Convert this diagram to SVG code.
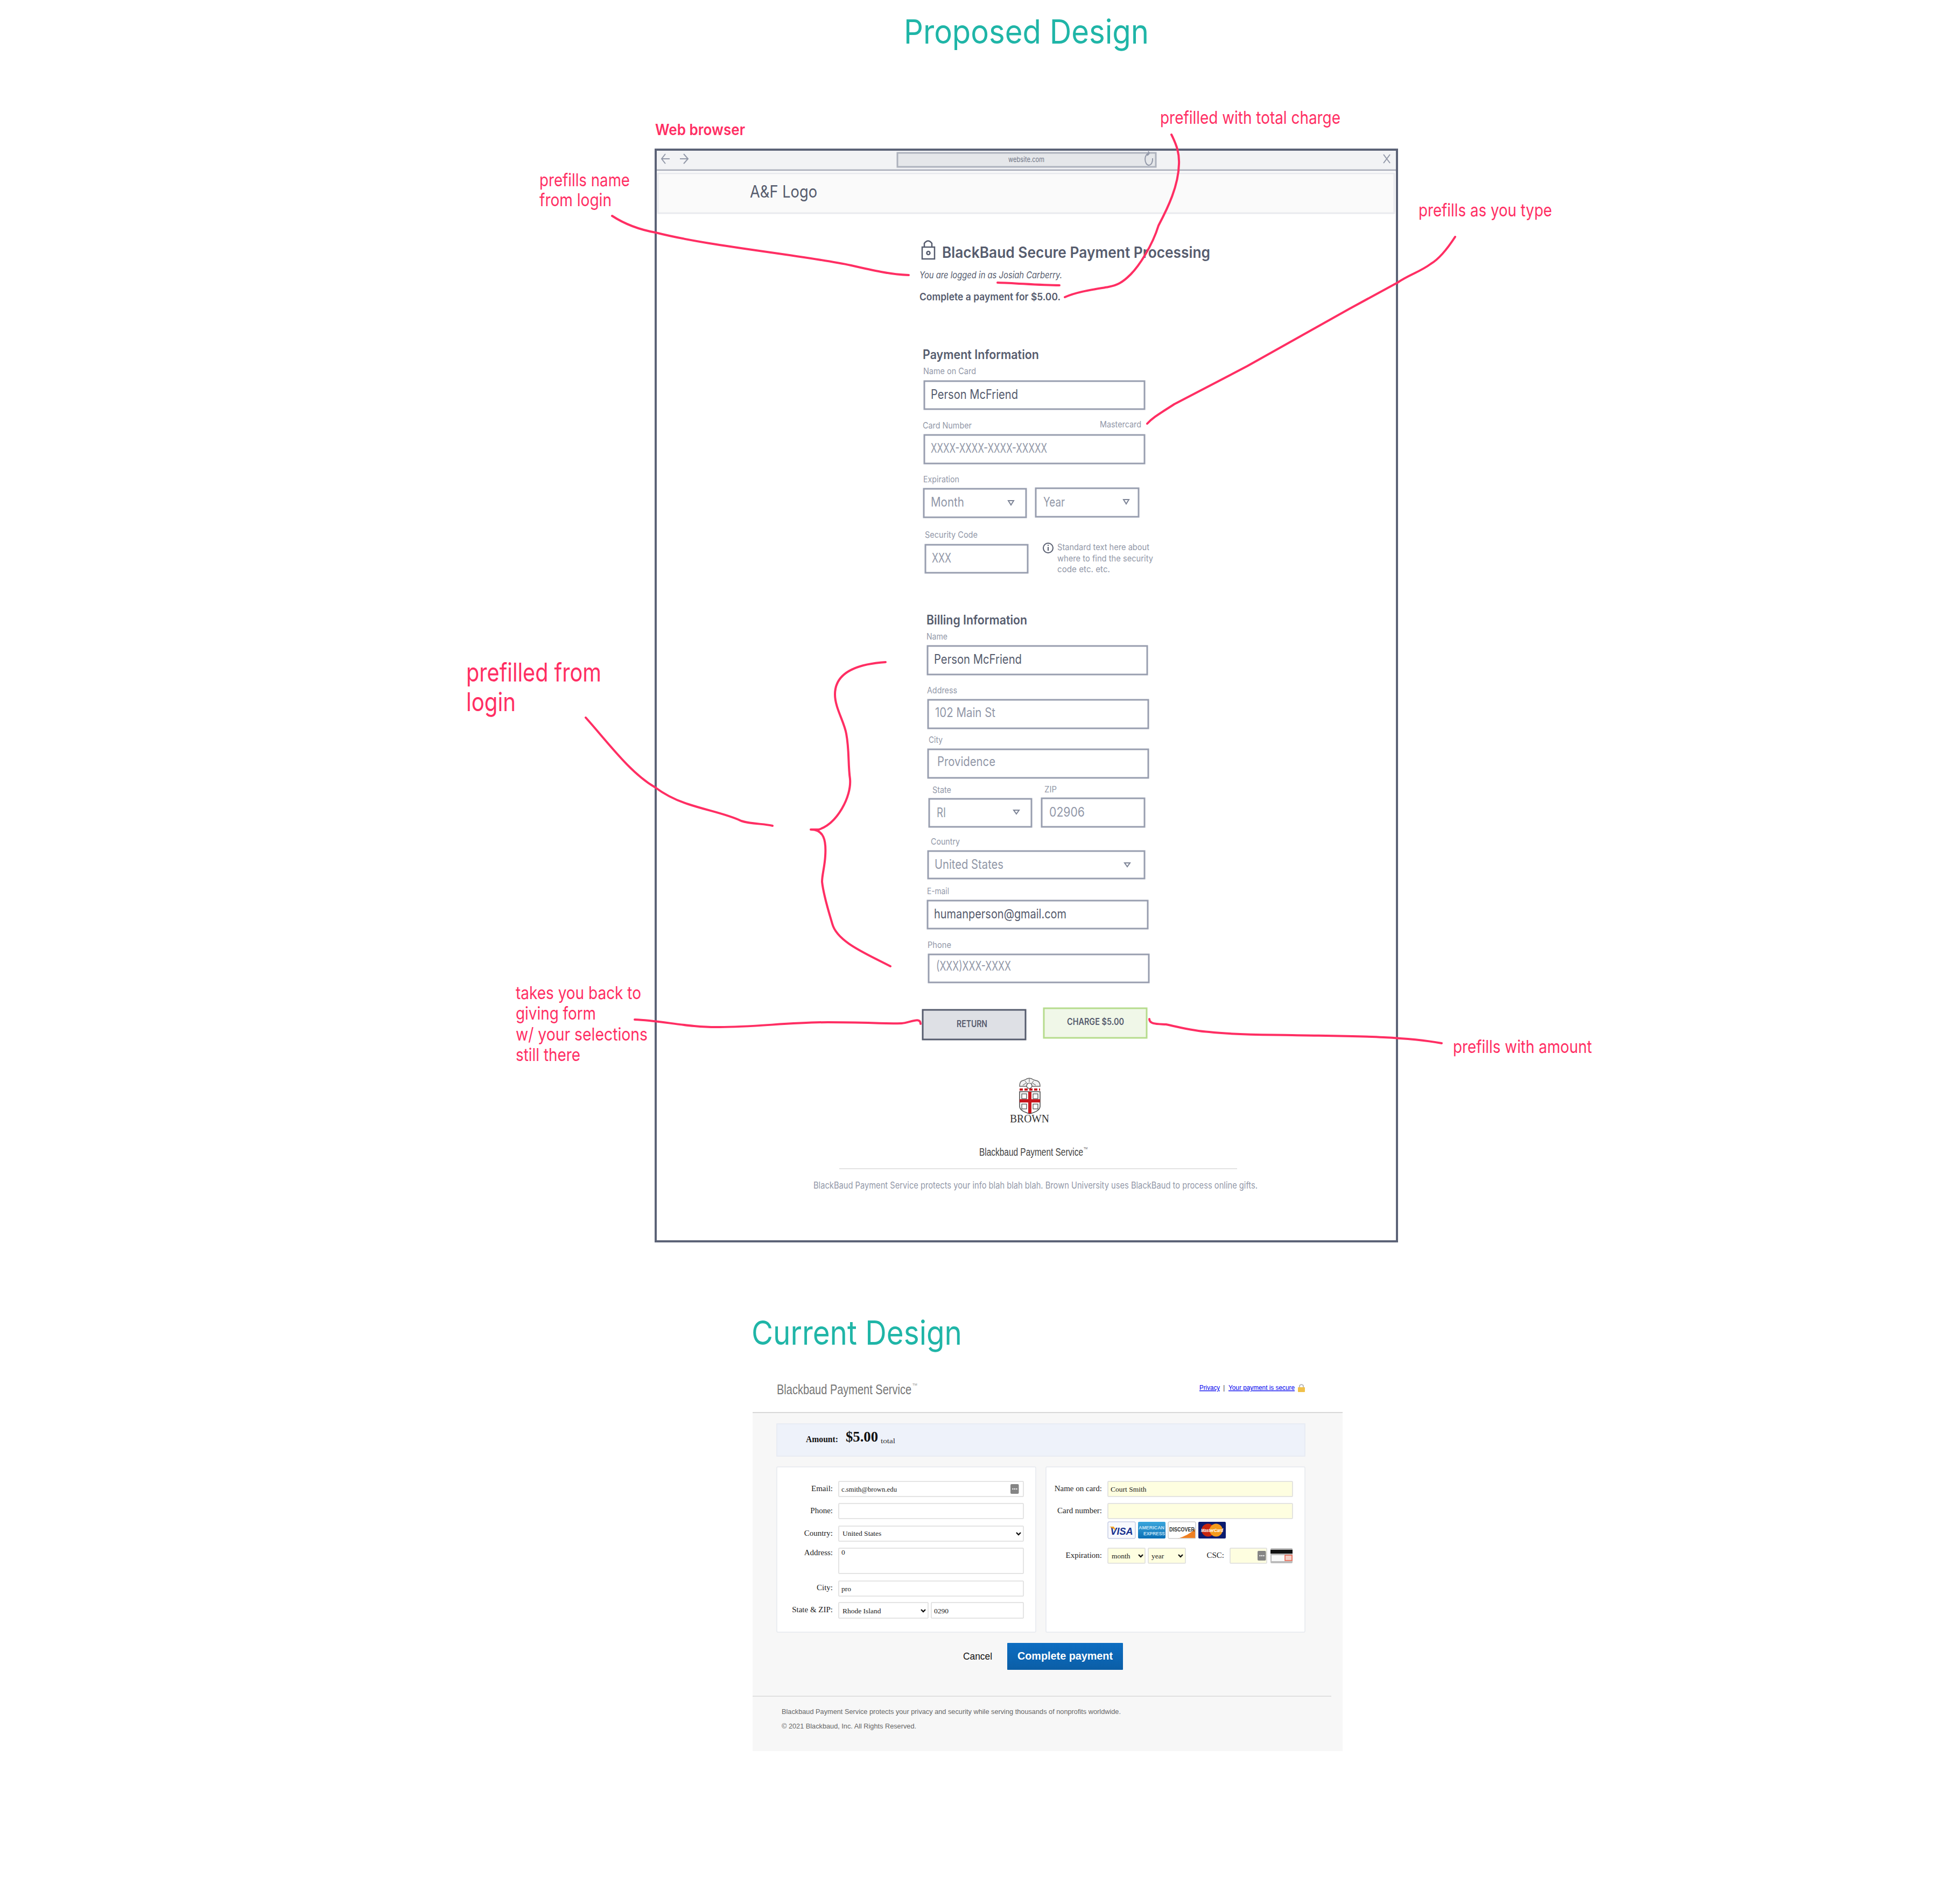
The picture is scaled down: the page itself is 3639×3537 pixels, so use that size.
<svg xmlns="http://www.w3.org/2000/svg" width="3639" height="3537" viewBox="0 0 3639 3537">
<defs>
<style>
text{font-family:"Inter","Liberation Sans",sans-serif;white-space:pre}
.title{font-size:62px;fill:#1fb5a7}
.note{font-size:33px;fill:#ff2e63}
.big{font-size:48px;fill:#ff2e63}
.lab{font-size:16.500px;fill:#9298a8}
.val{font-size:24px;fill:#565c6e}
.ph{font-size:24px;fill:#9298a8}
.head{font-size:24px;font-weight:600;fill:#565c6e}
.box{fill:#fff;stroke:#989eaf;stroke-width:3}
.tri{fill:none;stroke:#7d8496;stroke-width:2}
.ser{font-family:"Liberation Serif",serif;font-size:15px;fill:#222}
.val2{font-family:"Liberation Serif",serif;font-size:13.5px;fill:#222}
.serif{font-family:"Liberation Serif",serif}
.sans{font-family:"Liberation Sans",sans-serif}
.inp{fill:#fff;stroke:#dcdcdc;stroke-width:1.5}
.inpy{fill:#fefee0;stroke:#dcdcdc;stroke-width:1.5}
.card{fill:#fff;stroke:#e6e9ee;stroke-width:1.5}
.chev{fill:none;stroke:#111;stroke-width:2.4}
.lnk{font-family:"Liberation Sans",sans-serif;font-size:13px;fill:#0000ee;text-decoration:underline}
.sm{font-family:"Liberation Sans",sans-serif;font-size:12.5px;fill:#666}
.conn{fill:none;stroke:#ff2e63;stroke-width:4;stroke-linecap:round;stroke-linejoin:round}
</style>
<linearGradient id="btn" x1="0" y1="0" x2="0" y2="1"><stop offset="0" stop-color="#0d6dc1"/><stop offset="1" stop-color="#0b5ea6"/></linearGradient>
<linearGradient id="amex" x1="0" y1="0" x2="0" y2="1"><stop offset="0" stop-color="#3ba6dc"/><stop offset="1" stop-color="#0a6fb5"/></linearGradient>
<g id="key"><rect width="15.500" height="18" rx="2" fill="#858585"/><circle cx="4.500" cy="9" r="1.200" fill="#fff"/><circle cx="8" cy="9" r="1.200" fill="#fff"/><circle cx="11.500" cy="9" r="1.200" fill="#fff"/></g>
</defs>
<rect width="3639" height="3537" fill="#fff"/>

<g id="titles">
<text class="title" x="1679" y="81" textLength="455" lengthAdjust="spacingAndGlyphs">Proposed Design</text>
<text class="title" x="1396" y="2498" textLength="391" lengthAdjust="spacingAndGlyphs">Current Design</text>
</g>

<g id="browser">
<rect x="1219" y="279" width="1376" height="2027" fill="#fff"/>
<rect x="1219" y="280" width="1376" height="36" fill="#f2f3f5"/>
<path d="M1219 316H2595" stroke="#b0b4bf" stroke-width="3"/>
<rect x="1667" y="284" width="480" height="26" fill="#e5e7ea" stroke="#adb2bd" stroke-width="3"/>
<text x="1873" y="301" font-size="13.500" fill="#6f7585" textLength="67" lengthAdjust="spacingAndGlyphs">website.com</text>
<path d="M1244 295H1229M1236 286L1229 295L1236 304M1263 295H1278M1270 286L1278 295L1270 304" fill="none" stroke="#9298a8" stroke-width="2"/>
<path d="M2135 285A7 11 0 1 0 2141 294M2135 285L2133 281M2135 285L2131 289" fill="none" stroke="#9298a8" stroke-width="2"/>
<path d="M2570 287L2582 303M2582 287L2570 303" stroke="#9298a8" stroke-width="2"/>
<rect x="1222" y="322" width="1368" height="74" fill="#fafafa" stroke="#e9eaee" stroke-width="3"/>
<text x="1393" y="367" font-size="31" fill="#565c6e" textLength="125" lengthAdjust="spacingAndGlyphs">A&amp;F Logo</text>
<path d="M1218 2306V278H2595V2306H1218Z" fill="none" stroke="#5c6377" stroke-width="4"/>
</g>

<g id="payment-heading">
<g fill="none" stroke="#565c6e" stroke-width="2.500"><rect x="1713" y="459" width="23" height="22"/><path d="M1717 459V452Q1724 443 1731 452V459"/><circle cx="1724.500" cy="470" r="3"/></g>
<text x="1750" y="479" font-size="28" font-weight="600" fill="#565c6e" textLength="498" lengthAdjust="spacingAndGlyphs">BlackBaud Secure Payment Processing</text>
<text x="1708" y="517" font-size="17" font-style="italic" fill="#565c6e" textLength="265" lengthAdjust="spacingAndGlyphs">You are logged in as Josiah Carberry.</text>
<text x="1708" y="558" font-size="19" font-weight="600" fill="#565c6e" textLength="262" lengthAdjust="spacingAndGlyphs">Complete a payment for $5.00.</text>
</g>

<g id="payment-form">
<text class="head" x="1714" y="667" textLength="216" lengthAdjust="spacingAndGlyphs">Payment Information</text>
<text class="lab" x="1715" y="695" textLength="98" lengthAdjust="spacingAndGlyphs">Name on Card</text>
<rect class="box" x="1717" y="708" width="409" height="52"/>
<text class="val" x="1729" y="741" textLength="162" lengthAdjust="spacingAndGlyphs">Person McFriend</text>
<text class="lab" x="1714" y="796" textLength="91" lengthAdjust="spacingAndGlyphs">Card Number</text>
<text class="lab" x="2043" y="794" textLength="77" lengthAdjust="spacingAndGlyphs">Mastercard</text>
<rect class="box" x="1717" y="808" width="409" height="53"/>
<text class="ph" x="1729" y="841" textLength="216" lengthAdjust="spacingAndGlyphs">XXXX-XXXX-XXXX-XXXXX</text>
<text class="lab" x="1715" y="896" textLength="67" lengthAdjust="spacingAndGlyphs">Expiration</text>
<rect class="box" x="1716" y="908" width="190" height="53"/>
<text class="ph" x="1729" y="941" textLength="62" lengthAdjust="spacingAndGlyphs">Month</text>
<path class="tri" d="M1873 930H1883L1878 938Z"/>
<rect class="box" x="1924" y="907" width="191" height="53"/>
<text class="ph" x="1938" y="941" textLength="40" lengthAdjust="spacingAndGlyphs">Year</text>
<path class="tri" d="M2087 928H2097L2092 936Z"/>
<text class="lab" x="1718" y="999" textLength="98" lengthAdjust="spacingAndGlyphs">Security Code</text>
<rect class="box" x="1719" y="1012" width="190" height="52"/>
<text class="ph" x="1731" y="1045" textLength="36" lengthAdjust="spacingAndGlyphs">XXX</text>
<circle cx="1947" cy="1018" r="9" fill="none" stroke="#565c6e" stroke-width="2"/>
<path d="M1947 1016V1023M1947 1012V1014" stroke="#565c6e" stroke-width="2"/>
<text class="lab" x="1964" y="1022" textLength="171" lengthAdjust="spacingAndGlyphs">Standard text here about</text>
<text class="lab" x="1964" y="1043" textLength="178" lengthAdjust="spacingAndGlyphs">where to find the security</text>
<text class="lab" x="1964" y="1063" textLength="98" lengthAdjust="spacingAndGlyphs">code etc. etc.</text>
</g>

<g id="billing-form">
<text class="head" x="1721" y="1160" textLength="187" lengthAdjust="spacingAndGlyphs">Billing Information</text>
<text class="lab" x="1721" y="1188" textLength="39" lengthAdjust="spacingAndGlyphs">Name</text>
<rect class="box" x="1723" y="1200" width="408" height="53"/>
<text class="val" x="1735" y="1233" textLength="163" lengthAdjust="spacingAndGlyphs">Person McFriend</text>
<text class="lab" x="1722" y="1288" textLength="56" lengthAdjust="spacingAndGlyphs">Address</text>
<rect class="box" x="1724" y="1300" width="409" height="53"/>
<text class="ph" x="1737" y="1332" textLength="112" lengthAdjust="spacingAndGlyphs">102 Main St</text>
<text class="lab" x="1725" y="1380" textLength="26" lengthAdjust="spacingAndGlyphs">City</text>
<rect class="box" x="1724" y="1392" width="409" height="53"/>
<text class="ph" x="1741" y="1423" textLength="108" lengthAdjust="spacingAndGlyphs">Providence</text>
<text class="lab" x="1732" y="1473" textLength="35" lengthAdjust="spacingAndGlyphs">State</text>
<rect class="box" x="1726" y="1484" width="190" height="52"/>
<text class="ph" x="1740" y="1518" textLength="17" lengthAdjust="spacingAndGlyphs">RI</text>
<path class="tri" d="M1883 1505H1893L1888 1512Z"/>
<text class="lab" x="1940" y="1472" textLength="23" lengthAdjust="spacingAndGlyphs">ZIP</text>
<rect class="box" x="1935" y="1483" width="191" height="53"/>
<text class="ph" x="1949" y="1517" textLength="66" lengthAdjust="spacingAndGlyphs">02906</text>
<text class="lab" x="1729" y="1569" textLength="54" lengthAdjust="spacingAndGlyphs">Country</text>
<rect class="box" x="1724" y="1581" width="402" height="51"/>
<text class="ph" x="1736" y="1614" textLength="128" lengthAdjust="spacingAndGlyphs">United States</text>
<path class="tri" d="M2089 1603H2099L2094 1610Z"/>
<text class="lab" x="1722" y="1661" textLength="41" lengthAdjust="spacingAndGlyphs">E-mail</text>
<rect class="box" x="1723" y="1673" width="409" height="52"/>
<text class="val" x="1735" y="1706" textLength="246" lengthAdjust="spacingAndGlyphs">humanperson@gmail.com</text>
<text class="lab" x="1723" y="1761" textLength="44" lengthAdjust="spacingAndGlyphs">Phone</text>
<rect class="box" x="1725" y="1773" width="409" height="52"/>
<text class="ph" x="1739" y="1803" textLength="139" lengthAdjust="spacingAndGlyphs">(XXX)XXX-XXXX</text>
</g>

<g id="return-button">
<rect x="1714" y="1876" width="191" height="55" fill="#dee0e5" stroke="#565c6e" stroke-width="3"/>
<text x="1777" y="1908" font-size="17" font-weight="600" fill="#565c6e" textLength="57" lengthAdjust="spacingAndGlyphs">RETURN</text>
</g>
<g id="charge-button">
<rect x="1939" y="1873" width="191" height="55" fill="#f0f7e8" stroke="#b6dc8d" stroke-width="3"/>
<text x="1982" y="1904" font-size="17" font-weight="600" fill="#565c6e" textLength="106" lengthAdjust="spacingAndGlyphs">CHARGE $5.00</text>
</g>

<g id="brown-logo">
<path d="M1894 2018Q1894 2010 1898 2008L1904 2006Q1912 2000 1920 2006L1927 2008Q1932 2010 1932 2018Z" fill="#f2f2f2" stroke="#666" stroke-width="1.500"/>
<path d="M1900 2016L1906 2012M1924 2016L1918 2012M1912 2004V2010M1904 2008L1908 2013M1920 2008L1916 2013" stroke="#777" stroke-width="1.200"/>
<circle cx="1912" cy="2017" r="5" fill="#fff" stroke="#444" stroke-width="1.200"/>
<path d="M1894 2024H1932" stroke="#c8161d" stroke-width="4" stroke-dasharray="6 3"/>
<path d="M1894 2028H1932V2055Q1932 2064 1913 2069Q1894 2064 1894 2055Z" fill="#fff" stroke="#444" stroke-width="1.500"/>
<path d="M1913 2028V2068M1894 2045H1932" stroke="#c8161d" stroke-width="6"/>
<g fill="none" stroke="#444" stroke-width="1.200"><rect x="1898" y="2032" width="9" height="9"/><rect x="1919" y="2032" width="9" height="9"/><rect x="1898" y="2051" width="9" height="9"/><rect x="1919" y="2051" width="9" height="9"/></g>
<text class="serif" x="1876" y="2085" font-size="21" fill="#333" textLength="73" lengthAdjust="spacingAndGlyphs">BROWN</text>
</g>

<g id="browser-footer">
<text class="sans" x="1819" y="2147" font-size="20" fill="#444" textLength="193" lengthAdjust="spacingAndGlyphs">Blackbaud Payment Service</text>
<text class="sans" x="2013" y="2135" font-size="5" fill="#555">TM</text>
<path d="M1559 2171H2298" stroke="#e3e3e3" stroke-width="2"/>
<text x="1511" y="2208" font-size="17" fill="#9298a8" textLength="825" lengthAdjust="spacingAndGlyphs">BlackBaud Payment Service protects your info blah blah blah. Brown University uses BlackBaud to process online gifts.</text>
</g>

<g id="current-design">
<rect x="1398" y="2624" width="1096" height="629" fill="#f7f7f7"/>
<path d="M1398 2624H2494" stroke="#ccc" stroke-width="1.500"/>
<text class="sans" x="1443" y="2590" font-size="26" fill="#777" textLength="250" lengthAdjust="spacingAndGlyphs">Blackbaud Payment Service</text>
<text class="sans" x="1695" y="2574" font-size="6" fill="#888">TM</text>
<text class="lnk" x="2228" y="2582" textLength="38" lengthAdjust="spacingAndGlyphs">Privacy</text>
<text class="sans" x="2272" y="2582" font-size="13" fill="#555">|</text>
<text class="lnk" x="2282" y="2582" textLength="123" lengthAdjust="spacingAndGlyphs">Your payment is secure</text>
<rect x="2411" y="2577" width="13" height="9" rx="1" fill="#f0c04a"/>
<path d="M2414 2577V2574Q2417.500 2570 2421 2574V2577" fill="none" stroke="#bdbdbd" stroke-width="2"/>
<rect x="1443" y="2645" width="981" height="60" fill="#eef2fa" stroke="#e5e9f2" stroke-width="1.500"/>
<text class="serif" x="1497" y="2679" font-size="16" font-weight="700" fill="#111" textLength="60" lengthAdjust="spacingAndGlyphs">Amount:</text>
<text class="serif" x="1571" y="2678" font-size="28" font-weight="700" fill="#111" textLength="60" lengthAdjust="spacingAndGlyphs">$5.00</text>
<text class="serif" x="1636" y="2681" font-size="13" fill="#333" textLength="27" lengthAdjust="spacingAndGlyphs">total</text>

<g id="current-billing-card">
<rect class="card" x="1443" y="2725" width="481" height="307" rx="2"/>
<g text-anchor="end" class="labels">
<text class="ser" x="1547" y="2770">Email:</text>
<text class="ser" x="1547" y="2811">Phone:</text>
<text class="ser" x="1547" y="2853">Country:</text>
<text class="ser" x="1547" y="2889">Address:</text>
<text class="ser" x="1547" y="2954">City:</text>
<text class="ser" x="1547" y="2995">State &amp; ZIP:</text>
</g>
<rect class="inp" x="1558" y="2752" width="343" height="28" rx="1"/>
<rect class="inp" x="1558" y="2793" width="343" height="28" rx="1"/>
<rect class="inp" x="1558" y="2835" width="343" height="28" rx="1"/>
<rect class="inp" x="1558" y="2876" width="343" height="47" rx="1"/>
<rect class="inp" x="1558" y="2937" width="343" height="28" rx="1"/>
<rect class="inp" x="1558" y="2977" width="166" height="29" rx="1"/>
<rect class="inp" x="1730" y="2977" width="171" height="29" rx="1"/>
<text class="val2" x="1563" y="2771" textLength="103" lengthAdjust="spacingAndGlyphs">c.smith@brown.edu</text>
<use href="#key" x="1877" y="2757"/>
<text class="val2" x="1565" y="2853">United States</text>
<path class="chev" d="M1888 2847L1892 2851L1896 2847"/>
<text class="val2" x="1563" y="2888">0</text>
<text class="val2" x="1563" y="2956">pro</text>
<text class="val2" x="1565" y="2997">Rhode Island</text>
<path class="chev" d="M1711 2990L1715 2994L1719 2990"/>
<text class="val2" x="1735" y="2997">0290</text>
</g>

<g id="current-card-card">
<rect class="card" x="1943" y="2725" width="481" height="307" rx="2"/>
<g text-anchor="end">
<text class="ser" x="2047" y="2770">Name on card:</text>
<text class="ser" x="2047" y="2811">Card number:</text>
<text class="ser" x="2047" y="2894">Expiration:</text>
<text class="ser" x="2274" y="2894">CSC:</text>
</g>
<rect class="inpy" x="2058" y="2752" width="343" height="28" rx="1"/>
<rect class="inpy" x="2058" y="2793" width="343" height="28" rx="1"/>
<text class="val2" x="2063" y="2771">Court Smith</text>
<rect x="2058" y="2827" width="51" height="31" rx="2" fill="#f8f9fd" stroke="#aab4d8" stroke-width="1"/>
<text class="sans" x="2083.500" y="2851" text-anchor="middle" font-style="italic" font-weight="700" font-size="18" fill="#17318f">VISA</text>
<path d="M2061 2836L2069 2836L2073 2843Z" fill="#f0a020"/>
<rect x="2114" y="2827" width="51" height="31" rx="2" fill="url(#amex)"/>
<text class="sans" x="2115" y="2841" font-weight="700" font-size="9.500" fill="#c9e6f7" textLength="48" lengthAdjust="spacingAndGlyphs">AMERICAN</text>
<text class="sans" x="2124" y="2852" font-weight="700" font-size="9.500" fill="#c9e6f7" textLength="40" lengthAdjust="spacingAndGlyphs">EXPRESS</text>
<rect x="2170" y="2827" width="51" height="31" rx="2" fill="#fff" stroke="#b5b5b5" stroke-width="1"/>
<path d="M2188 2858Q2208 2852 2220 2840V2857H2190Z" fill="#ee7f22"/>
<text class="sans" x="2172" y="2845" font-weight="700" font-size="10" fill="#333" textLength="47" lengthAdjust="spacingAndGlyphs">DISCOVER</text>
<rect x="2226" y="2827" width="51" height="31" rx="2" fill="#0b1c70"/>
<circle cx="2244" cy="2842.500" r="12" fill="#c9260e"/>
<circle cx="2259" cy="2842.500" r="12" fill="#f59b1c"/>
<text class="sans" x="2231" y="2846" font-style="italic" font-weight="700" font-size="9.500" fill="#fff" textLength="41" lengthAdjust="spacingAndGlyphs">MasterCard</text>
<rect class="inpy" x="2058" y="2876" width="69" height="28" rx="1"/>
<text class="val2" x="2065" y="2895">month</text>
<path class="chev" d="M2115 2888L2119 2892L2123 2888"/>
<rect class="inpy" x="2133" y="2876" width="69" height="28" rx="1"/>
<text class="val2" x="2139" y="2895">year</text>
<path class="chev" d="M2189 2888L2193 2892L2197 2888"/>
<rect class="inpy" x="2285" y="2876" width="68" height="28" rx="1"/>
<use href="#key" x="2336" y="2881"/>
<rect x="2360" y="2876" width="41" height="28" rx="2" fill="#bcbcbc"/>
<rect x="2360" y="2879" width="41" height="7" fill="#111"/>
<rect x="2362" y="2889" width="38" height="11" fill="#fafafa"/>
<rect x="2387" y="2889" width="13" height="10" fill="#f4d0c8" stroke="#e8604a" stroke-width="1.500"/>
</g>

<g id="current-actions">
<text class="sans" x="1789" y="3083" font-size="19" fill="#111" textLength="54" lengthAdjust="spacingAndGlyphs">Cancel</text>
<rect x="1871" y="3052" width="215" height="50" rx="1" fill="url(#btn)"/>
<text class="sans" x="1890" y="3083" font-size="21" font-weight="700" fill="#fff" textLength="177" lengthAdjust="spacingAndGlyphs">Complete payment</text>
<path d="M1398 3151H2473" stroke="#e0e0e0" stroke-width="2"/>
<text class="sm" x="1452" y="3184" textLength="630" lengthAdjust="spacingAndGlyphs">Blackbaud Payment Service protects your privacy and security while serving thousands of nonprofits worldwide.</text>
<text class="sm" x="1452" y="3211" textLength="250" lengthAdjust="spacingAndGlyphs">© 2021 Blackbaud, Inc. All Rights Reserved.</text>
</g>
</g>

<g id="annotations">
<text x="1217" y="251" font-size="29" font-weight="600" fill="#ff2e63" textLength="167" lengthAdjust="spacingAndGlyphs">Web browser</text>
<text class="note" x="2155" y="230" textLength="335" lengthAdjust="spacingAndGlyphs">prefilled with total charge</text>
<text class="note" x="1002" y="346" textLength="168" lengthAdjust="spacingAndGlyphs">prefills name</text>
<text class="note" x="1002" y="383" textLength="134" lengthAdjust="spacingAndGlyphs">from login</text>
<text class="note" x="2635" y="402" textLength="248" lengthAdjust="spacingAndGlyphs">prefills as you type</text>
<text class="big" x="866" y="1266" textLength="251" lengthAdjust="spacingAndGlyphs">prefilled from</text>
<text class="big" x="866" y="1321" textLength="92" lengthAdjust="spacingAndGlyphs">login</text>
<text class="note" x="958" y="1856" textLength="233" lengthAdjust="spacingAndGlyphs">takes you back to</text>
<text class="note" x="958" y="1894" textLength="149" lengthAdjust="spacingAndGlyphs">giving form</text>
<text class="note" x="958" y="1933" textLength="245" lengthAdjust="spacingAndGlyphs">w/ your selections</text>
<text class="note" x="958" y="1971" textLength="120" lengthAdjust="spacingAndGlyphs">still there</text>
<text class="note" x="2699" y="1956" textLength="258" lengthAdjust="spacingAndGlyphs">prefills with amount</text>
</g>

<g id="connectors">
<path class="conn" d="M1137 401C1160 416 1190 427 1218 432C1320 458 1480 472 1581 493C1620 502 1655 510 1688 511"/>
<path class="conn" d="M1853 525C1890 526 1930 530 1968 530"/>
<path class="conn" d="M2176 250C2186 270 2191 285 2190 305C2189 345 2170 385 2152 419C2140 458 2115 495 2100 510C2085 525 2075 530 2059 533C2030 538 2000 542 1978 552"/>
<path class="conn" d="M2703 440C2690 460 2675 480 2658 490C2638 505 2618 510 2596 525L2506 574L2317 680L2181 751C2155 768 2142 775 2131 787"/>
<path class="conn" d="M1088 1333C1130 1380 1170 1435 1216 1462C1240 1480 1260 1488 1279 1494C1315 1506 1350 1512 1377 1525C1395 1531 1420 1530 1435 1534"/>
<path class="conn" d="M1645 1230C1600 1233 1551 1245 1551 1290C1551 1315 1568 1340 1572 1363C1578 1395 1575 1420 1579 1447C1582 1480 1555 1530 1521 1541L1506 1541C1530 1541 1535 1560 1533 1590C1532 1610 1527 1625 1527 1638C1530 1665 1540 1695 1546 1716C1555 1750 1610 1772 1654 1795"/>
<path class="conn" d="M1179 1894C1230 1896 1280 1909 1337 1908C1400 1908 1470 1899 1538 1899C1600 1899 1660 1902 1675 1901C1690 1900 1710 1888 1710 1902"/>
<path class="conn" d="M2135 1893C2135 1903 2150 1902 2166 1903C2195 1909 2215 1915 2246 1917C2300 1923 2350 1922 2400 1923C2500 1925 2600 1924 2678 1938"/>
</g>
</svg>
